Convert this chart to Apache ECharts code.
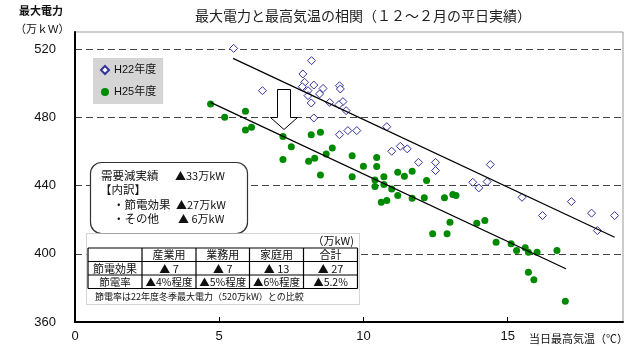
<!DOCTYPE html>
<html>
<head>
<meta charset="utf-8">
<script src="https://cdn.jsdelivr.net/npm/echarts@6/dist/echarts.min.js"></script>
<style>
html,body{margin:0;padding:0;background:#fff;}
#c{width:631px;height:347px;}
</style>
</head>
<body>
<div id="c"></div>
<script>
// ---- data ----
const h22Temp  = [5.5, 6.5, 7.9, 8.2, 7.96, 8.28, 8.6, 7.88, 8.08, 8.48, 8.08, 8.19, 8.83, 9.17, 9.2, 9.29, 9.15, 9.4, 8.28, 9.17, 9.46, 9.77, 10.81, 10.98, 11.28, 11.52, 11.91, 12.5, 12.5, 13.79, 14.0, 14.29, 14.4, 15.5, 16.21, 17.21, 17.91, 18.11, 18.71];
const h22Power = [520.4, 495.6, 505.4, 513.2, 500.5, 498.9, 496.9, 497.9, 495.6, 493.7, 492.7, 488.4, 488.7, 498.5, 496.6, 489.2, 487.4, 483.9, 479.6, 469.8, 472.2, 472.2, 474.5, 460.1, 463.0, 461.5, 453.6, 453.6, 448.8, 441.9, 438.6, 442.3, 452.3, 433.1, 422.4, 430.6, 423.8, 413.6, 422.4];
const h25Temp  = [4.7, 5.19, 5.91, 5.91, 6.12, 7.21, 7.5, 8.19, 8.51, 8.92, 7.21, 8.1, 8.31, 8.71, 8.51, 9.61, 9.61, 10.0, 10.46, 10.46, 10.4, 10.4, 10.71, 10.71, 10.98, 10.62, 10.81, 11.19, 11.42, 11.69, 12.19, 11.19, 11.69, 12.11, 12.81, 13.1, 13.21, 13.0, 12.4, 12.9, 13.93, 14.21, 14.6, 15.12, 15.31, 15.61, 15.72, 16.02, 16.71, 15.72, 15.91, 17.0];
const h25Power = [487.8, 480.0, 483.5, 472.6, 474.1, 468.7, 462.8, 469.7, 471.2, 462.0, 455.2, 454.2, 456.0, 458.5, 446.2, 457.5, 445.2, 451.3, 456.5, 451.2, 443.3, 439.4, 445.2, 440.6, 438.0, 430.2, 431.2, 447.8, 445.4, 448.3, 442.9, 434.1, 432.5, 432.8, 432.8, 434.7, 434.1, 418.5, 411.7, 411.7, 417.9, 419.5, 406.8, 405.8, 401.9, 403.5, 400.9, 400.9, 401.9, 389.2, 384.8, 372.1];
const h22TrendTemp  = [5.48, 18.71];
const h22TrendPower = [514.5, 409.7];
const h25TrendTemp  = [4.70, 17.02];
const h25TrendPower = [488.7, 391.2];
const seriesNames = ['H22年度', 'H25年度'];

const titleText = '最大電力と最高気温の相関（１２～２月の平日実績）';
const yNameLines = ['最大電力', '（万ｋW）'];
const xName = '当日最高気温（℃）';

const summaryLabels = ['需要減実績', '【内訳】', '・節電効果', '・その他'];
const summaryValues = ['▲33万kW', '', '▲27万kW', '▲ 6万kW'];

const tableUnit = '（万kW)';
const tableHeader = ['', '産業用', '業務用', '家庭用', '合計'];
const tableRow1 = ['節電効果', '▲ 7', '▲ 7', '▲ 13', '▲ 27'];
const tableRow2 = ['節電率', '▲4%程度', '▲5%程度', '▲6%程度', '▲5.2%'];
const tableNote = '節電率は22年度冬季最大電力（520万kW）との比較';

// ---- build ----
const FF = "'Liberation Sans','Noto Sans CJK JP',sans-serif";
const FJ = "'Noto Sans CJK JP','Liberation Sans',sans-serif";
const zip = (a, b) => a.map((v, i) => [v, b[i]]);

const chart = echarts.init(document.getElementById('c'), null, {renderer: 'canvas'});

const g = [];
function txt(x, y, t, size, opt) {
  opt = opt || {};
  g.push({type: 'text', x: x, y: y, z: 20, silent: true,
    style: {text: t, font: (opt.weight || 'normal') + ' ' + size + 'px ' + (opt.family || FF),
      fill: opt.fill || '#111', align: opt.align || 'left', verticalAlign: 'middle'}});
}
function ln(x1, y1, x2, y2, w, color) {
  g.push({type: 'line', z: 20, silent: true, shape: {x1, y1, x2, y2},
    style: {stroke: color || '#000', lineWidth: w || 1}});
}

// y axis name
txt(19, 12, yNameLines[0], 11, {weight: 'bold'});
txt(15, 30, yNameLines[1], 11);
// x axis name
txt(529, 340, xName, 11);

// arrow
g.push({type: 'polygon', z: 15, silent: true,
  shape: {points: [[277.5, 89.5], [290.5, 89.5], [290.5, 117.5], [297.5, 117.5], [284, 129.5], [270.5, 117.5], [277.5, 117.5]]},
  style: {fill: '#fff', stroke: '#000', lineWidth: 1}});

// summary rounded box
g.push({type: 'rect', z: 15, silent: true, shape: {x: 90.5, y: 162.5, width: 157, height: 71, r: 11},
  style: {fill: '#fff', stroke: '#333', lineWidth: 1.2}});
const sumY = [176, 190, 204.5, 219];
const sumX = [101, 100, 113, 113];
const sumVX = [175, 0, 176, 178];
summaryLabels.forEach((t, i) => {
  txt(sumX[i], sumY[i], t, 11.5, {family: FJ});
  if (summaryValues[i]) txt(sumVX[i], sumY[i], summaryValues[i], 11, {family: FJ});
});

// table
g.push({type: 'rect', z: 15, silent: true, shape: {x: 86.5, y: 233.5, width: 273, height: 71},
  style: {fill: '#fff', stroke: '#aaa', lineWidth: 1, lineDash: [1, 1]}});
txt(354, 240.5, tableUnit, 11, {align: 'right', family: FJ});
const colX = [88, 142, 196, 249.5, 303.5, 357.5];
const rowY = [248, 261.5, 275, 288.5];
rowY.forEach(y => ln(colX[0], y, colX[5], y, 1.2));
colX.forEach(x => ln(x, rowY[0], x, rowY[3], 1.2));
[tableHeader, tableRow1, tableRow2].forEach((row, r) => {
  const cy = (rowY[r] + rowY[r + 1]) / 2 + 0.5;
  row.forEach((t, c) => {
    if (t) txt((colX[c] + colX[c + 1]) / 2, cy, t, r === 2 ? 10.5 : 11, {align: 'center', family: FJ});
  });
});
txt(95, 297, tableNote, 9, {family: FJ});

const option = {
  animation: false,
  backgroundColor: '#fff',
  textStyle: {fontFamily: FF},
  title: {
    text: titleText, left: 190, top: 5,
    textStyle: {fontSize: 14, fontWeight: 'normal', color: '#222', fontFamily: FF}
  },
  legend: {
    data: seriesNames,
    orient: 'vertical', left: 93, top: 58,
    backgroundColor: '#d5d5d5',
    padding: [6, 7, 6, 7],
    itemGap: 10, itemWidth: 8, itemHeight: 8,
    textStyle: {fontSize: 11, lineHeight: 12, color: '#111', fontFamily: FF}
  },
  grid: {left: 75, top: 32, right: 8, bottom: 25, containLabel: false, outerBoundsMode: 'none',
    show: true, borderColor: '#999', borderWidth: 1, backgroundColor: 'transparent'},
  xAxis: {
    type: 'value', min: 0, max: 19, interval: 5,
    axisLine: {show: true, onZero: false, lineStyle: {color: '#000', width: 2}},
    axisTick: {show: true, inside: true, length: 5, lineStyle: {color: '#000', width: 1}},
    axisLabel: {fontSize: 13, color: '#111', margin: 8, showMaxLabel: false, fontFamily: FF},
    splitLine: {show: false}
  },
  yAxis: {
    type: 'value', min: 360, max: 530, interval: 40,
    axisLine: {show: true, onZero: false, lineStyle: {color: '#000', width: 2}},
    axisTick: {show: false},
    axisLabel: {fontSize: 13, color: '#111', margin: 19, showMaxLabel: false, fontFamily: FF},
    splitLine: {show: true, showMinLine: false, showMaxLine: false,
      lineStyle: {color: '#444', width: 1, type: [7, 4]}}
  },
  series: [
    {
      name: seriesNames[0], type: 'scatter', symbol: 'diamond', symbolSize: 8,
      itemStyle: {color: '#fff', borderColor: '#33339e', borderWidth: 1, opacity: 1},
      data: zip(h22Temp, h22Power), z: 3
    },
    {
      name: seriesNames[1], type: 'scatter', symbol: 'circle', symbolSize: 7,
      itemStyle: {color: '#008a00', opacity: 1},
      data: zip(h25Temp, h25Power), z: 3
    },
    {
      name: 'H22近似', type: 'line', symbol: 'none', silent: true,
      lineStyle: {color: '#000', width: 1.3},
      data: zip(h22TrendTemp, h22TrendPower), z: 4
    },
    {
      name: 'H25近似', type: 'line', symbol: 'none', silent: true,
      lineStyle: {color: '#000', width: 1.3},
      data: zip(h25TrendTemp, h25TrendPower), z: 4
    }
  ],
  graphic: g
};
chart.setOption(option);
</script>
</body>
</html>
